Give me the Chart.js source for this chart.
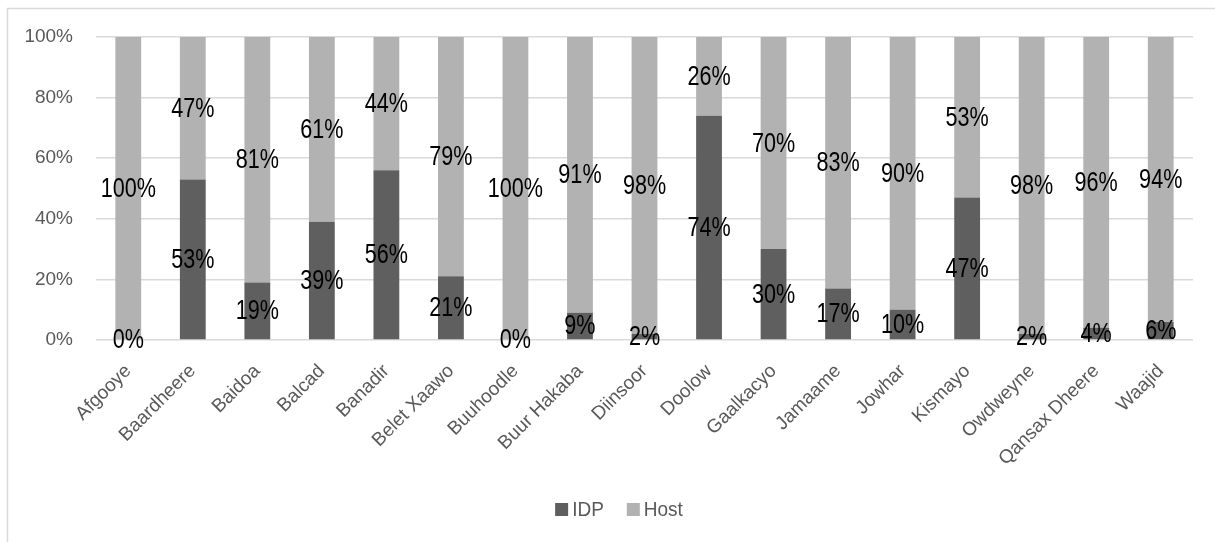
<!DOCTYPE html>
<html>
<head>
<meta charset="utf-8">
<script src="https://cdn.jsdelivr.net/npm/chart.js@4/dist/chart.umd.min.js"></script>
<style>
  html, body { margin: 0; padding: 0; background: #ffffff; }
  #wrap { position: relative; width: 1215px; height: 542px; }
</style>
</head>
<body>
<div id="wrap"><canvas id="c" width="1215" height="542"></canvas></div>
<script>
// Districts on the category axis
const districts = ['Afgooye', 'Baardheere', 'Baidoa', 'Balcad', 'Banadir', 'Belet Xaawo',
  'Buuhoodle', 'Buur Hakaba', 'Diinsoor', 'Doolow', 'Gaalkacyo', 'Jamaame', 'Jowhar',
  'Kismayo', 'Owdweyne', 'Qansax Dheere', 'Waajid'];

// Share of respondents per district (percent)
const idpShare  = [0, 53, 19, 39, 56, 21, 0, 9, 2, 74, 30, 17, 10, 47, 2, 4, 6];
const hostShare = [100, 47, 81, 61, 44, 79, 100, 91, 98, 26, 70, 83, 90, 53, 98, 96, 94];

// Value-axis tick marks
const yTicks = [0, 20, 40, 60, 80, 100];

const IDP_COLOR = '#5f5f5f';
const HOST_COLOR = '#b2b2b2';
const AXIS_TEXT = '#595959';
const GRID = '#d9d9d9';
const FONT = '"Liberation Sans", Arial, sans-serif';

// Outer frame of the chart area (only top and left edges fall inside the canvas)
const framePlugin = {
  id: 'frame',
  beforeDraw(chart) {
    const ctx = chart.ctx;
    ctx.save();
    ctx.strokeStyle = '#d9d9d9';
    ctx.lineWidth = 1.5;
    ctx.beginPath();
    ctx.moveTo(7.5, chart.height + 2);
    ctx.lineTo(7.5, 8.5);
    ctx.lineTo(chart.width + 2, 8.5);
    ctx.stroke();
    ctx.restore();
  }
};

// Percentage labels centred in every stacked segment
const segmentLabels = {
  id: 'segmentLabels',
  afterDatasetsDraw(chart) {
    const ctx = chart.ctx;
    ctx.save();
    ctx.fillStyle = '#000000';
    ctx.font = '27px ' + FONT;
    ctx.textAlign = 'center';
    ctx.textBaseline = 'middle';
    chart.data.datasets.forEach((ds, di) => {
      const meta = chart.getDatasetMeta(di);
      meta.data.forEach((bar, i) => {
        const v = ds.data[i];
        const cy = (bar.y + bar.base) / 2;
        ctx.save();
        ctx.translate(bar.x, cy);
        ctx.scale(0.8, 1);
        ctx.fillText(v + '%', 0, 1);
        ctx.restore();
      });
    });
    ctx.restore();
  }
};

// Compact legend row below the category labels
const legendRow = {
  id: 'legendRow',
  afterDraw(chart) {
    const ctx = chart.ctx;
    const box = 13, gap = 4, itemGap = 23;
    const centerX = 619, centerY = 509.5;
    ctx.save();
    ctx.font = '20px ' + FONT;
    ctx.textBaseline = 'middle';
    const items = chart.data.datasets.map(ds => ({
      text: ds.label, color: ds.backgroundColor, w: ctx.measureText(ds.label).width * 0.95
    }));
    const total = items.reduce((s, it) => s + box + gap + it.w, 0) + itemGap * (items.length - 1);
    let x = centerX - total / 2;
    items.forEach(it => {
      ctx.fillStyle = it.color;
      ctx.fillRect(x, centerY - box / 2, box, box);
      x += box + gap;
      ctx.fillStyle = AXIS_TEXT;
      ctx.save();
      ctx.translate(x, centerY + 1);
      ctx.scale(0.95, 1);
      ctx.fillText(it.text, 0, 0);
      ctx.restore();
      x += it.w + itemGap;
    });
    ctx.restore();
  }
};

new Chart(document.getElementById('c'), {
  type: 'bar',
  data: {
    labels: districts,
    datasets: [
      { label: 'IDP', data: idpShare, backgroundColor: IDP_COLOR },
      { label: 'Host', data: hostShare, backgroundColor: HOST_COLOR }
    ]
  },
  options: {
    responsive: false,
    animation: false,
    devicePixelRatio: 1,
    layout: { padding: { left: 0, top: 37, right: 22, bottom: 52 } },
    datasets: { bar: { barPercentage: 0.4, categoryPercentage: 1 } },
    scales: {
      x: {
        stacked: true,
        grid: { display: false },
        border: { display: false },
        ticks: {
          color: AXIS_TEXT,
          font: { family: FONT, size: 19 },
          minRotation: 45,
          maxRotation: 45,
          autoSkip: false,
          padding: 12
        },
        afterFit(scale) { scale.height = 150; }
      },
      y: {
        stacked: true,
        min: 0,
        max: 100,
        afterBuildTicks(scale) { scale.ticks = yTicks.map(v => ({ value: v })); },
        grid: { color: GRID, lineWidth: 1.5, drawTicks: false },
        border: { display: false },
        ticks: {
          color: AXIS_TEXT,
          font: { family: FONT, size: 19 },
          padding: 23,
          callback: v => v + '%'
        },
        afterFit(scale) { scale.width = 96; }
      }
    },
    plugins: {
      legend: { display: false },
      tooltip: { enabled: false }
    }
  },
  plugins: [framePlugin, segmentLabels, legendRow]
});
</script>
</body>
</html>
